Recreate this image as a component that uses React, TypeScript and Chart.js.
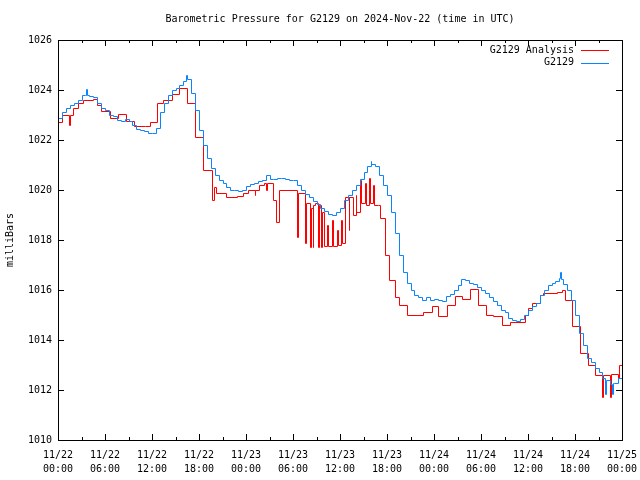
import React, { useEffect, useRef } from "react";
import { Chart, registerables } from "chart.js";

Chart.register(...registerables);

const FONT = '"DejaVu Sans Mono", "Liberation Mono", monospace';
const TITLE = "Barometric Pressure for G2129 on 2024-Nov-22 (time in UTC)";
const Y_AXIS_TITLE = "milliBars";
const SERIES_NAMES = ["G2129 Analysis", "G2129"];
const SERIES_COLORS = ["#ff0000", "#0a84ff"];

// x axis: hours since 2024-11-22 00:00 UTC
const X_MIN = 0;
const X_MAX = 72;
const X_MAJOR_STEP = 6;
const X_MINOR_STEP = 3;
const X_TICK_DATES = ["11/22", "11/22", "11/22", "11/22", "11/23", "11/23", "11/23", "11/23", "11/24", "11/24", "11/24", "11/24", "11/25"];
const X_TICK_TIMES = ["00:00", "06:00", "12:00", "18:00", "00:00", "06:00", "12:00", "18:00", "00:00", "06:00", "12:00", "18:00", "00:00"];

const Y_MIN = 1010;
const Y_MAX = 1026;
const Y_STEP = 2;

// G2129 Analysis (red, step style): [hour, mbar]
const analysisSeries: [number, number][] = [
  [0, 1022.7], [0.5, 1023.0], [1.4, 1022.6], [1.55, 1023.0], [1.9, 1023.3], [2.6, 1023.5],
  [3.2, 1023.6], [4.5, 1023.65], [5.0, 1023.4], [5.5, 1023.15], [6.6, 1022.9], [7.7, 1023.05],
  [8.7, 1022.75], [9.7, 1022.55], [11.1, 1022.55], [11.7, 1022.7], [12.6, 1023.5], [13.4, 1023.6],
  [14.5, 1023.85], [15.4, 1024.1], [16.5, 1023.5], [17.5, 1022.1], [18.5, 1020.8], [19.7, 1019.6],
  [19.9, 1020.1], [20.2, 1019.9], [21.4, 1019.7], [22.8, 1019.75], [23.6, 1019.9], [24.3, 1020.0],
  [25.1, 1019.8], [25.2, 1020.0], [25.6, 1020.2], [26.3, 1020.3], [26.5, 1020.0], [26.7, 1020.3],
  [27.5, 1019.6], [27.8, 1018.7], [28.2, 1020.0], [30.5, 1018.1], [30.6, 1019.9], [31.5, 1017.9],
  [31.65, 1019.5], [32.2, 1017.7], [32.3, 1019.3], [32.5, 1017.7], [32.6, 1019.4], [32.8, 1019.5],
  [33.2, 1017.7], [33.3, 1019.4], [33.6, 1017.7], [33.7, 1019.1], [34.0, 1017.75], [34.4, 1018.6],
  [34.5, 1017.75], [35.0, 1018.8], [35.1, 1017.75], [35.6, 1018.4], [35.7, 1017.8], [36.1, 1018.8],
  [36.2, 1017.9], [36.7, 1019.7], [37.1, 1018.4], [37.2, 1019.7], [37.6, 1019.0], [38.0, 1019.8],
  [38.1, 1019.1], [38.6, 1020.4], [38.7, 1019.5], [39.2, 1020.3], [39.3, 1019.4], [39.7, 1020.5],
  [39.8, 1019.5], [40.2, 1020.2], [40.3, 1019.4], [40.8, 1019.4], [41.1, 1018.9], [41.8, 1017.4],
  [42.3, 1016.4], [43.0, 1015.7], [43.5, 1015.4], [44.6, 1015.0], [46.6, 1015.1], [47.7, 1015.35],
  [48.5, 1014.95], [49.6, 1015.4], [50.7, 1015.75], [51.6, 1015.65], [52.6, 1016.05], [53.6, 1015.4],
  [54.6, 1015.0], [55.5, 1014.95], [56.7, 1014.6], [57.7, 1014.7], [59.6, 1015.0], [60.0, 1015.3],
  [60.5, 1015.47], [61.5, 1015.8], [61.9, 1015.87], [63.7, 1015.93], [64.3, 1016.0], [64.7, 1015.6],
  [65.6, 1014.57], [66.6, 1013.47], [67.6, 1013.0], [68.6, 1012.6], [69.5, 1011.7], [69.6, 1012.6],
  [70.5, 1011.7], [70.6, 1012.65], [71.5, 1012.5], [71.6, 1013.0], [72.0, 1013.0],
];

// G2129 observations (blue): [hour, mbar]
const observedSeries: [number, number][] = [
  [0, 1022.9], [0.5, 1023.1], [1, 1023.3], [1.5, 1023.4], [2, 1023.5], [2.5, 1023.6], [3, 1023.8],
  [3.5, 1023.8], [3.6, 1024.05], [3.7, 1023.8], [4, 1023.75], [4.5, 1023.7], [5, 1023.5], [5.5, 1023.3],
  [6, 1023.2], [6.5, 1023.0], [7, 1022.95], [7.5, 1022.8], [8, 1022.75], [8.5, 1022.85], [9, 1022.75],
  [9.5, 1022.6], [10, 1022.45], [10.5, 1022.4], [11, 1022.35], [11.5, 1022.3], [12, 1022.3], [12.5, 1022.5],
  [13, 1023.1], [13.5, 1023.5], [14, 1023.8], [14.5, 1024.0], [15, 1024.1], [15.5, 1024.2], [16, 1024.35],
  [16.4, 1024.6], [16.5, 1024.45], [17, 1023.9], [17.5, 1023.2], [18, 1022.4], [18.5, 1021.8], [19, 1021.3],
  [19.5, 1020.9], [20, 1020.6], [20.5, 1020.4], [21, 1020.3], [21.5, 1020.1], [22, 1020.0], [22.5, 1020.0],
  [23, 1019.95], [23.5, 1020.0], [24, 1020.15], [24.5, 1020.25], [25, 1020.3], [25.5, 1020.35], [26, 1020.4],
  [26.5, 1020.6], [27, 1020.45], [27.5, 1020.45], [28, 1020.5], [28.5, 1020.5], [29, 1020.45], [29.5, 1020.4],
  [30, 1020.4], [30.5, 1020.2], [31, 1020.0], [31.5, 1019.85], [32, 1019.7], [32.5, 1019.55], [33, 1019.45],
  [33.5, 1019.3], [34, 1019.15], [34.5, 1019.05], [35, 1019.0], [35.5, 1019.1], [36, 1019.3], [36.5, 1019.6],
  [37, 1019.8], [37.5, 1020.0], [38, 1020.2], [38.5, 1020.45], [39, 1020.7], [39.5, 1020.95], [39.9, 1021.15],
  [40, 1021.05], [40.5, 1020.95], [41, 1020.6], [41.5, 1020.2], [42, 1019.8], [42.5, 1019.1], [43, 1018.3],
  [43.5, 1017.4], [44, 1016.7], [44.5, 1016.3], [45, 1016.0], [45.5, 1015.8], [46, 1015.7], [46.5, 1015.6],
  [47, 1015.7], [47.5, 1015.6], [48, 1015.65], [48.5, 1015.6], [49, 1015.55], [49.5, 1015.75], [50, 1015.85],
  [50.5, 1016.0], [51, 1016.2], [51.5, 1016.45], [52, 1016.4], [52.5, 1016.3], [53, 1016.25], [53.5, 1016.1],
  [54, 1016.0], [54.5, 1015.9], [55, 1015.7], [55.5, 1015.55], [56, 1015.4], [56.5, 1015.2], [57, 1015.1],
  [57.5, 1014.9], [58, 1014.8], [58.5, 1014.75], [59, 1014.85], [59.5, 1015.0], [60, 1015.2], [60.5, 1015.35],
  [61, 1015.5], [61.5, 1015.8], [62, 1016.0], [62.5, 1016.2], [63, 1016.3], [63.5, 1016.35], [64, 1016.5],
  [64.1, 1016.7], [64.2, 1016.45], [64.5, 1016.25], [65, 1016.0], [65.5, 1015.6], [66, 1015.0], [66.5, 1014.3],
  [67, 1013.8], [67.5, 1013.3], [68, 1013.1], [68.5, 1012.9], [69, 1012.7], [69.5, 1012.5], [69.8, 1011.85],
  [69.9, 1012.4], [70, 1012.4], [70.5, 1012.25], [70.7, 1011.85], [70.8, 1012.3], [71, 1012.3], [71.5, 1012.5],
  [72, 1012.6],
];

const MAJOR_TICK = 6;
const MINOR_TICK = 3;

const snapPlugin = {
  id: "snapToPixels",
  afterDatasetsUpdate(chart: any) {
    chart.data.datasets.forEach((_: any, i: number) => {
      const meta = chart.getDatasetMeta(i);
      meta.data.forEach((p: any) => {
        p.x = Math.round(p.x) + 0.5;
        p.y = Math.round(p.y) + 0.5;
      });
    });
  },
};

const framePlugin = {
  id: "gnuplotFrame",
  beforeDraw(chart: any) {
    const { ctx, width, height } = chart;
    ctx.save();
    ctx.fillStyle = "#ffffff";
    ctx.fillRect(0, 0, width, height);
    ctx.restore();
  },
  afterDraw(chart: any) {
    const { ctx, chartArea } = chart;
    const xs = chart.scales.x;
    const ys = chart.scales.y;
    const L = Math.round(chartArea.left);
    const R = Math.round(chartArea.right);
    const T = Math.round(chartArea.top);
    const B = Math.round(chartArea.bottom);
    ctx.save();
    ctx.strokeStyle = "#000000";
    ctx.lineWidth = 1;
    ctx.beginPath();
    for (let h = X_MIN; h <= X_MAX; h += X_MINOR_STEP) {
      const px = Math.round(xs.getPixelForValue(h)) + 0.5;
      const len = h % X_MAJOR_STEP === 0 ? MAJOR_TICK : MINOR_TICK;
      ctx.moveTo(px, B);
      ctx.lineTo(px, B - len);
      ctx.moveTo(px, T);
      ctx.lineTo(px, T + len);
    }
    ys.ticks.forEach((t: any) => {
      const py = Math.round(ys.getPixelForValue(t.value)) + 0.5;
      ctx.moveTo(L, py);
      ctx.lineTo(L + MAJOR_TICK, py);
      ctx.moveTo(R, py);
      ctx.lineTo(R - MAJOR_TICK, py);
    });
    ctx.stroke();
    ctx.strokeRect(L + 0.5, T + 0.5, R - L, B - T);

    ctx.fillStyle = "#000000";
    ctx.font = `10px ${FONT}`;
    ctx.textBaseline = "middle";
    ctx.textAlign = "center";
    ctx.fillText(TITLE, (L + R) / 2, 19);

    // legend (gnuplot style: text, then line sample)
    const rows = [T + 10, T + 22.5];
    ctx.textAlign = "right";
    rows.forEach((y, i) => {
      ctx.fillStyle = "#000000";
      ctx.fillText(SERIES_NAMES[i], R - 48, y);
      ctx.strokeStyle = SERIES_COLORS[i];
      ctx.beginPath();
      const yy = Math.round(y) + 0.5;
      ctx.moveTo(R - 41, yy);
      ctx.lineTo(R - 13, yy);
      ctx.stroke();
    });
    ctx.restore();
  },
};

export default function App() {
  const ref = useRef<HTMLCanvasElement>(null);
  useEffect(() => {
    const canvas = ref.current;
    if (!canvas) return;
    const chart = new Chart(canvas, {
      type: "line",
      data: {
        datasets: [
          {
            label: SERIES_NAMES[1],
            data: observedSeries.map(([x, y]) => ({ x, y })),
            borderColor: SERIES_COLORS[1],
            backgroundColor: SERIES_COLORS[1],
            borderWidth: 1,
            pointRadius: 0,
            stepped: true,
            order: 0,
          },
          {
            label: SERIES_NAMES[0],
            data: analysisSeries.map(([x, y]) => ({ x, y })),
            borderColor: SERIES_COLORS[0],
            backgroundColor: SERIES_COLORS[0],
            borderWidth: 1,
            pointRadius: 0,
            stepped: true,
            order: 1,
          },
        ],
      },
      options: {
        responsive: false,
        animation: false,
        devicePixelRatio: 1,
        layout: { padding: { left: 0, right: 18, top: 40, bottom: 0 } },
        plugins: {
          legend: { display: false },
          title: { display: false },
          tooltip: { enabled: false },
        },
        scales: {
          x: {
            type: "linear",
            min: X_MIN,
            max: X_MAX,
            grid: { display: false, drawTicks: false },
            border: { display: false },
            ticks: {
              stepSize: X_MAJOR_STEP,
              autoSkip: false,
              maxRotation: 0,
              padding: 8,
              color: "#000000",
              font: { family: FONT, size: 10, lineHeight: 1.4 },
              callback: (v: any) => {
                const i = Math.round(Number(v) / X_MAJOR_STEP);
                return [X_TICK_DATES[i], X_TICK_TIMES[i]];
              },
            },
            afterFit: (s: any) => {
              s.height = 40;
              s.paddingLeft = 0;
              s.paddingRight = 0;
            },
          },
          y: {
            type: "linear",
            min: Y_MIN,
            max: Y_MAX,
            grid: { display: false, drawTicks: false },
            border: { display: false },
            title: {
              display: true,
              text: Y_AXIS_TITLE,
              color: "#000000",
              font: { family: FONT, size: 10 },
              padding: { top: 4, bottom: 0 },
            },
            ticks: {
              stepSize: Y_STEP,
              padding: 6,
              color: "#000000",
              font: { family: FONT, size: 10 },
              callback: (v: any) => String(v),
            },
            afterFit: (s: any) => {
              s.width = 58;
              s.paddingTop = 0;
              s.paddingBottom = 0;
            },
          },
        },
      },
      plugins: [snapPlugin, framePlugin],
    });
    return () => chart.destroy();
  }, []);
  return (
    <div style={{ position: "absolute", left: 0, top: 0, width: 640, height: 480, background: "#ffffff" }}>
      <canvas ref={ref} width={640} height={480} style={{ display: "block", width: 640, height: 480 }} />
    </div>
  );
}
